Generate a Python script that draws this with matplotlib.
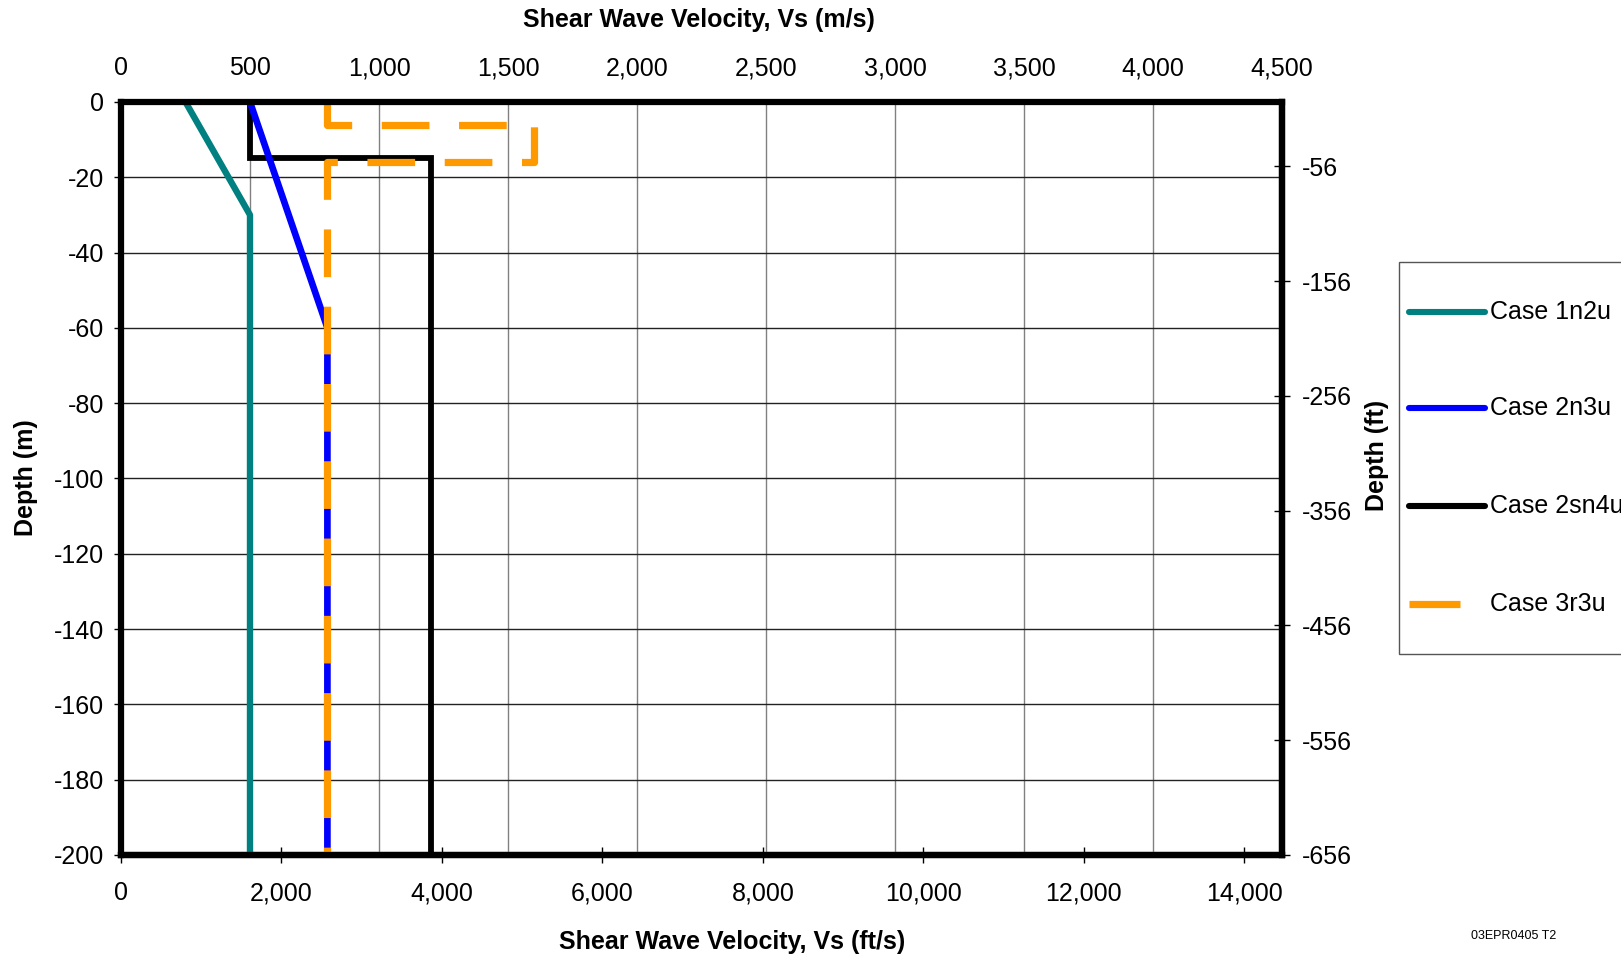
import matplotlib.pyplot as plt
import matplotlib.ticker as mticker
from matplotlib.lines import Line2D
from matplotlib.patches import Rectangle

plt.rcParams['font.family'] = ['Liberation Sans', 'DejaVu Sans']
plt.rcParams['axes.unicode_minus'] = False

# Shear wave velocity profiles (m/s) vs depth (m)
case1_vs = [250, 500, 500]
case1_depth = [0, -30, -200]

case2_vs = [500, 800, 800]
case2_depth = [0, -60, -200]

case2s_vs = [500, 500, 1200, 1200]
case2s_depth = [0, -15, -15, -200]

case3_vs = [800, 800, 1600, 1600, 800, 800]
case3_depth = [0, -6, -6, -16, -16, -200]

labels = ['Case 1n2u', 'Case 2n3u', 'Case 2sn4u', 'Case 3r3u']
colors = ['#008080', '#0000FF', '#000000', '#FF9900']

top_ticks = list(range(0, 5000, 500))
bottom_ticks = list(range(0, 15000, 2000))
left_ticks = list(range(0, -220, -20))
right_ticks = [-56, -156, -256, -356, -456, -556, -656]

FT_AXIS_MAX = 14470.0   # bottom axis span as drawn in the original
M_TO_FT = 656.0 / 200.0

FS = 18

fig = plt.figure(figsize=(16.21, 9.58), dpi=100)
ax = fig.add_axes([121 / 1621, 1 - 855 / 958, (1282 - 121) / 1621, (855 - 102) / 958])

ax.set_xlim(0, 4500)
ax.set_ylim(-200, 0)

for x in top_ticks[1:-1]:
    ax.axvline(x, color='#808080', lw=1, zorder=1)
for y in left_ticks[1:-1]:
    ax.axhline(y, color='#222222', lw=1, zorder=1)

ax.plot(case2s_vs, case2s_depth, color=colors[2], lw=4.2, zorder=3, solid_joinstyle='miter')
ax.plot(case1_vs, case1_depth, color=colors[0], lw=4.6, zorder=3)
ax.plot(case2_vs, case2_depth, color=colors[1], lw=4.8, zorder=3)
ax.plot(case3_vs, case3_depth, color=colors[3], lw=5.2, ls=(0, (6.6, 4.1)),
        dash_capstyle='butt', zorder=4)

for s in ax.spines.values():
    s.set_linewidth(4.5)
    s.set_zorder(5)

ax.xaxis.set_ticks(top_ticks)
ax.xaxis.set_major_formatter(mticker.StrMethodFormatter('{x:,.0f}'))
ax.tick_params(axis='x', bottom=False, top=False, labelbottom=False, labeltop=True,
               labelsize=FS, pad=12)
ax.set_yticks(left_ticks)
ax.tick_params(axis='y', direction='out', length=5, width=1, labelsize=FS, pad=7)

k = FT_AXIS_MAX / 4500.0
secx = ax.secondary_xaxis('bottom', functions=(lambda v: v * k, lambda v: v / k))
secx.set_xticks(bottom_ticks)
secx.xaxis.set_major_formatter(mticker.StrMethodFormatter('{x:,.0f}'))
secx.tick_params(direction='inout', length=12, width=1, labelsize=FS, pad=13)
secx.spines['bottom'].set_linewidth(4.5)

secy = ax.secondary_yaxis('right', functions=(lambda d: d * M_TO_FT, lambda d: d / M_TO_FT))
secy.set_yticks(right_ticks)
secy.tick_params(direction='inout', length=12, width=1, labelsize=FS, pad=8)
secy.spines['right'].set_linewidth(4.5)

fig.text(699 / 1621, 1 - 20 / 958, 'Shear Wave Velocity, Vs (m/s)', ha='center', va='center',
         fontsize=FS, fontweight='bold')
fig.text(732 / 1621, 1 - 942 / 958, 'Shear Wave Velocity, Vs (ft/s)', ha='center', va='center',
         fontsize=FS, fontweight='bold')
fig.text(26 / 1621, 1 - 478 / 958, 'Depth (m)', ha='center', va='center', rotation=90,
         fontsize=FS, fontweight='bold')
fig.text(1377 / 1621, 1 - 455 / 958, 'Depth (ft)', ha='center', va='center', rotation=90,
         fontsize=FS, fontweight='bold')
fig.text(1514 / 1621, 1 - 936 / 958, '03EPR0405 T2', ha='center', va='center', fontsize=9)

# legend box drawn by hand (it runs off the right edge in the original)
W, H = 1621.0, 958.0
fig.add_artist(Rectangle((1399 / W, 1 - 654 / H), 260 / W, 392 / H, transform=fig.transFigure,
                         facecolor='white', edgecolor='#555555', lw=1))
rows = [312, 408, 506, 604]
for i, (lab, c) in enumerate(zip(labels, colors)):
    yy = 1 - rows[i] / H
    if i == 3:
        fig.add_artist(Line2D([1409 / W, 1460 / W], [yy, yy], transform=fig.transFigure,
                              color=c, lw=5.2, solid_capstyle='butt'))
    else:
        fig.add_artist(Line2D([1409 / W, 1485 / W], [yy, yy], transform=fig.transFigure,
                              color=c, lw=4.4, solid_capstyle='round'))
    fig.text(1490 / W, yy, lab, ha='left', va='center', fontsize=FS)

fig.savefig('out.png', dpi=100)
